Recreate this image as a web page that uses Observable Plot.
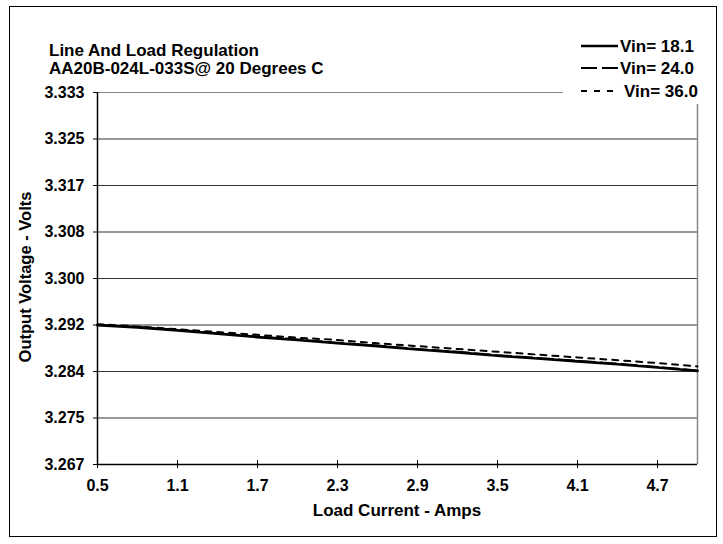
<!DOCTYPE html>
<html>
<head>
<meta charset="utf-8">
<script src="https://cdn.jsdelivr.net/npm/d3@7"></script>
<script src="https://cdn.jsdelivr.net/npm/@observablehq/plot@0.6"></script>
<style>
  html, body { margin: 0; padding: 0; background: #fff; }
  #chart svg { display: block; }
</style>
</head>
<body>
<div id="chart"></div>
<script>
// ---- data ----
const loadCurrent = [0.5, 0.8, 1.1, 1.4, 1.7, 2.0, 2.3, 2.6, 2.9, 3.2, 3.5, 3.8, 4.1, 4.4, 4.7, 5.0];
const vin181 = [3.2917, 3.2913, 3.2908, 3.2902, 3.2896, 3.2891, 3.2885, 3.2880, 3.2874, 3.2869, 3.2863, 3.2858, 3.2853, 3.2848, 3.2842, 3.2836];
const vin240 = [3.2918, 3.2914, 3.2909, 3.2903, 3.2897, 3.2892, 3.2886, 3.2881, 3.2875, 3.2870, 3.2864, 3.2859, 3.2854, 3.2849, 3.2843, 3.2837];
const vin360 = [3.2919, 3.2915, 3.2910, 3.2905, 3.2900, 3.2895, 3.2891, 3.2885, 3.2880, 3.2875, 3.2870, 3.2865, 3.2860, 3.2855, 3.2850, 3.2844];
const seriesNames = ["Vin= 18.1", "Vin= 24.0", "Vin= 36.0"];
const yTickValues = [3.267, 3.27525, 3.2835, 3.29175, 3.300, 3.30825, 3.3165, 3.32475, 3.333];
const yTickLabels = ["3.267", "3.275", "3.284", "3.292", "3.300", "3.308", "3.317", "3.325", "3.333"];
const xTickValues = [0.5, 1.1, 1.7, 2.3, 2.9, 3.5, 4.1, 4.7];
const xTickLabels = ["0.5", "1.1", "1.7", "2.3", "2.9", "3.5", "4.1", "4.7"];
const titleLines = ["Line And Load Regulation", "AA20B-024L-033S@ 20 Degrees C"];
const xTitle = "Load Current - Amps";
const yTitle = "Output Voltage - Volts";

const toRows = vals => loadCurrent.map((x, i) => ({x, v: vals[i]}));
const d18 = toRows(vin181), d24 = toRows(vin240), d36 = toRows(vin360);

const FONT = "'Liberation Sans', Arial, sans-serif";

const chart = Plot.plot({
  width: 723,
  height: 544,
  marginLeft: 97,
  marginRight: 26,
  marginTop: 92,
  marginBottom: 80,
  style: {fontFamily: FONT, fontSize: "16px", fontWeight: "bold", color: "#000", background: "#fff"},
  x: {domain: [0.5, 5.0]},
  y: {domain: [3.267, 3.333]},
  marks: [
    Plot.ruleY(yTickValues.slice(1, -1), {stroke: "#333", strokeWidth: 1}),
    Plot.ruleY([3.333], {stroke: "#888", strokeWidth: 1}),
    Plot.ruleX([5.0], {stroke: "#888", strokeWidth: 1.5}),
    Plot.line(d24, {x: "x", y: "v", stroke: "#000", strokeWidth: 2, strokeDasharray: "16,5"}),
    Plot.line(d18, {x: "x", y: "v", stroke: "#000", strokeWidth: 2.6}),
    Plot.line(d36, {x: "x", y: "v", stroke: "#000", strokeWidth: 2, strokeDasharray: "6,6"}),
    Plot.axisY({ticks: yTickValues, tickFormat: d => yTickLabels[yTickValues.indexOf(d)], tickSize: 4, tickPadding: 9, label: null, stroke: "#000"}),
    Plot.axisX({ticks: xTickValues, tickFormat: d => xTickLabels[xTickValues.indexOf(d)], tickSize: 8, dy: -4, tickPadding: 11, label: null, stroke: "#000"}),
    Plot.ruleX([0.5], {stroke: "#000", strokeWidth: 1.5}),
    Plot.ruleY([3.267], {stroke: "#000", strokeWidth: 1.5})
  ]
});

const svg = d3.select(chart);
svg.attr("font-family", FONT);

// outer frame
svg.append("rect")
  .attr("x", 9.5).attr("y", 6.5).attr("width", 707).attr("height", 530)
  .attr("fill", "none").attr("stroke", "#000").attr("stroke-width", 1);

// title
const tg = svg.append("g").attr("font-weight", "bold").attr("font-size", 17).attr("fill", "#000").attr("text-anchor", "start");
titleLines.forEach((t, i) => {
  tg.append("text").attr("x", 49).attr("y", 50 + i * 18).attr("dy", "0.36em").attr("text-anchor", "start").text(t);
});

// legend
const lg = svg.append("g").attr("text-anchor", "start");
lg.append("rect").attr("x", 563).attr("y", 30).attr("width", 144).attr("height", 74).attr("fill", "#fff");
const dashes = [null, "16,5", "6,7"];
const widths = [2.6, 2, 2];
const rowY = [46, 68, 91];
seriesNames.forEach((name, i) => {
  lg.append("line").attr("x1", 581).attr("x2", 618).attr("y1", rowY[i]).attr("y2", rowY[i])
    .attr("stroke", "#000").attr("stroke-width", widths[i])
    .attr("stroke-dasharray", dashes[i]);
  lg.append("text").attr("x", i === 2 ? 624 : 620).attr("y", rowY[i]).attr("dy", "0.36em")
    .attr("text-anchor", "start")
    .attr("font-weight", "bold").attr("font-size", 17).text(name);
});

// axis titles
svg.append("text").attr("x", 397).attr("y", 510).attr("dy", "0.36em").attr("text-anchor", "middle")
  .attr("font-weight", "bold").attr("font-size", 17).text(xTitle);
svg.append("text").attr("transform", "translate(25,277) rotate(-90)").attr("dy", "0.36em")
  .attr("text-anchor", "middle").attr("font-weight", "bold").attr("font-size", 16.5).text(yTitle);

document.getElementById("chart").appendChild(chart);
</script>
</body>
</html>
